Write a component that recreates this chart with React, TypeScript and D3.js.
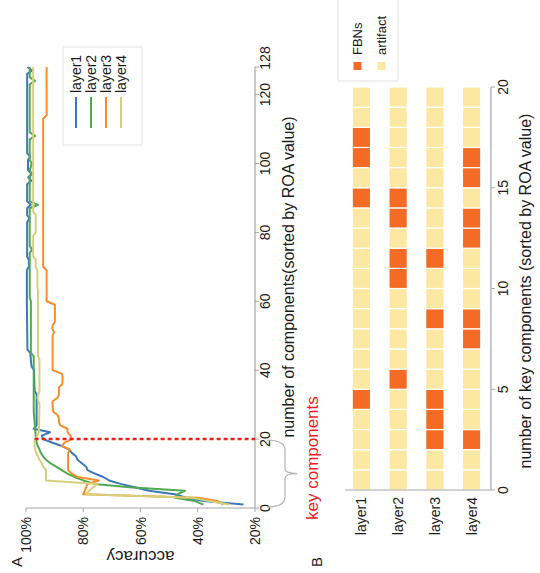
import React from "react";
import * as d3 from "d3";

// ---------- data ----------
const layers = ["layer1", "layer2", "layer3", "layer4"];
const lineColors = ["#3d79b7", "#4fa950", "#f58e28", "#d6d07c"];

const layer1Acc: [number, number][] = [
  [1, 24], [2, 38], [3, 44], [4, 48], [5, 57], [6, 62], [7, 67], [8, 71], [9, 73], [10, 76],
  [11, 78.5], [12, 79], [13, 80.5], [14, 82], [15, 82.5], [16, 84], [17, 85], [18, 87.5], [19, 91],
  [20, 94], [21, 94.5], [22, 91.6], [23, 97.3], [24, 96.3], [33, 96.3], [34, 97], [40, 97.2],
  [41, 98], [42, 98.2], [45, 98.5], [46, 99.5], [60, 99.7], [69, 99.7], [70, 99], [72, 99],
  [73, 99.6], [83, 99.6], [84, 98.7], [85, 99.6], [87, 99.6], [88, 98.3], [89, 99.6], [94, 99.6],
  [95, 98.2], [96, 99.2], [97, 98], [98, 99.3], [101, 99.3], [102, 98.5], [103, 99.6], [126, 99.6],
  [127, 97.9], [128, 99.5],
];
const layer2Acc: [number, number][] = [
  [1, 38], [2, 41], [3, 48], [4, 47], [5, 44.5], [6, 64], [7, 76], [8, 80], [9, 83], [10, 85.5],
  [11, 87.5], [12, 89.5], [13, 91.5], [14, 93], [15, 94], [16, 94.8], [17, 95.3], [18, 95.9],
  [19, 96.3], [20, 96.5], [25, 97], [28, 97.3], [44, 97.3], [45, 98.3], [60, 98.3], [61, 98.7],
  [74, 98.7], [75, 97.9], [76, 98.7], [87, 98.7], [88, 95.8], [89, 98.7], [96, 98.7], [97, 98],
  [98, 98.7], [100, 98], [101, 98.7], [107, 98.7], [108, 96.8], [109, 98.7], [123, 98.7],
  [124, 96.8], [125, 98.7], [128, 98.7],
];
const layer3Acc: [number, number][] = [
  [1, 31], [2, 33], [3, 40], [4, 80], [5, 79.5], [6, 79], [7, 78.5], [8, 74.5], [9, 82], [10, 84],
  [11, 85.3], [16, 85.3], [17, 84.7], [18, 87.5], [19, 86.5], [20, 84], [21, 84.5], [22, 85.5],
  [23, 85.5], [24, 88], [25, 88.5], [26, 88.5], [27, 89], [28, 90.5], [29, 90.7], [31, 90.7],
  [32, 89], [33, 88.5], [35, 88.5], [36, 87.3], [38, 87.2], [39, 87.5], [40, 90.7], [50, 90.7],
  [51, 90.2], [52, 90.8], [53, 90.7], [54, 89.9], [59, 89.9], [60, 92.8], [69, 92.8], [70, 94],
  [113, 94], [114, 92.8], [128, 92.8],
];
const layer4Acc: [number, number][] = [
  [1, 29], [2, 36], [3, 42], [4, 79], [5, 78], [6, 76.5], [7, 75], [8, 93], [11, 93], [12, 94],
  [13, 94.5], [14, 95.3], [15, 95.8], [16, 96.5], [17, 96.8], [18, 97], [19, 97], [20, 96.7],
  [22, 95.5], [30, 95.3], [32, 96], [34, 95.3], [43, 95.3], [44, 95.8], [63, 95.8], [64, 96],
  [69, 96], [70, 96.6], [72, 96.6], [73, 97.5], [79, 97.5], [80, 96.6], [85, 96.6], [86, 97.5],
  [128, 97.5],
];
const seriesA = [layer1Acc, layer2Acc, layer3Acc, layer4Acc];

const xTicksA = [0, 20, 40, 60, 80, 100, 120, 128];
const yTicksA = [20, 40, 60, 80, 100];
const keyComponents = 20;

// panel B: indices of key components that are FBNs
const fbnLayer1 = [4, 14, 16, 17];
const fbnLayer2 = [5, 10, 11, 13, 14];
const fbnLayer3 = [2, 3, 4, 8, 11];
const fbnLayer4 = [2, 7, 8, 12, 13, 15, 16];
const fbnByLayer = [fbnLayer1, fbnLayer2, fbnLayer3, fbnLayer4];
const xTicksB = [0, 5, 10, 15, 20];
const FBN_COLOR = "#f36b24";
const ART_COLOR = "#fde8a3";

// ---------- layout (unrotated figure 573 x 540) ----------
const FW = 573;
const AXIS = "#a6a6a6";
const TXT = "#1a1a1a";

export default function App() {
  const xA = d3.scaleLinear().domain([0, 128]).range([65, 506]);
  const yA = d3.scaleLinear().domain([20, 100]).range([255, 26]);
  const line = d3
    .line<[number, number]>()
    .x((d) => xA(d[0]))
    .y((d) => yA(d[1]));

  const xB = d3.scaleLinear().domain([0, 20]).range([83, 486]);
  const yB = d3.scaleBand<string>().domain(layers).range([343, 490]).paddingInner(0.5).paddingOuter(0.25);

  const bx0 = xA(0) + 1;
  const bx1 = xA(keyComponents) - 1;
  const bxm = (bx0 + bx1) / 2;
  const brace = `M${bx0},267 Q${bx0},285 ${bx0 + 10},285 L${bxm - 5},285 Q${bxm},285 ${bxm},297 Q${bxm},285 ${bxm + 5},285 L${bx1 - 10},285 Q${bx1},285 ${bx1},267`;

  return (
    <svg
      width={540}
      height={573}
      style={{ position: "absolute", left: 0, top: 0, background: "#fff" }}
      fontFamily="'Liberation Sans', Arial, sans-serif"
    >
      <g transform={`translate(0,${FW}) rotate(-90)`}>
        {/* ===== Panel A ===== */}
        <text x={6} y={22} fontSize={15} fill={TXT}>A</text>
        {/* axes */}
        <line x1={xA(0)} x2={xA(128)} y1={yA(20)} y2={yA(20)} stroke={AXIS} strokeWidth={1.2} />
        <line x1={xA(0)} x2={xA(0)} y1={yA(20)} y2={yA(100)} stroke={AXIS} strokeWidth={1.2} />
        {xTicksA.map((t) => (
          <g key={"xa" + t}>
            <line x1={xA(t)} x2={xA(t)} y1={yA(20)} y2={yA(20) + 4} stroke={AXIS} />
            <text x={xA(t) + (t === 128 ? 9 : 0)} y={270} fontSize={14} textAnchor="middle" fill={TXT}>{t}</text>
          </g>
        ))}
        {yTicksA.map((t) => (
          <g key={"ya" + t}>
            <line x1={xA(0) - 4} x2={xA(0)} y1={yA(t)} y2={yA(t)} stroke={AXIS} />
            <text x={56} y={yA(t) + 5} fontSize={14} textAnchor="end" fill={TXT}>{t}%</text>
          </g>
        ))}
        <text
          transform={`translate(22,${yA(60)}) rotate(-90)`}
          fontSize={17}
          textAnchor="middle"
          fill={TXT}
        >
          accuracy
        </text>
        <text x={296} y={294} fontSize={16} textAnchor="middle" fill={TXT}>
          number of components(sorted by ROA value)
        </text>
        {/* series */}
        {seriesA.map((s, i) => (
          <path key={"s" + i} d={line(s) || ""} fill="none" stroke={lineColors[i]} strokeWidth={2} strokeLinejoin="round" />
        ))}
        {/* key component marker */}
        <line
          x1={xA(keyComponents)}
          x2={xA(keyComponents)}
          y1={yA(97)}
          y2={yA(20)}
          stroke="#e8211c"
          strokeWidth={2.5}
          strokeDasharray="4 3"
        />
        <path d={brace} fill="none" stroke="#b3b3b3" strokeWidth={1.2} />
        <text x={53} y={318} fontSize={17} fill="#ee1c25">key components</text>
        {/* legend A */}
        <rect x={428} y={63} width={98} height={79} fill="#fff" stroke="#e2e2e2" />
        {layers.map((l, i) => (
          <g key={"la" + l}>
            <line x1={445} x2={476} y1={76 + i * 15} y2={76 + i * 15} stroke={lineColors[i]} strokeWidth={2} />
            <text x={480} y={81 + i * 15} fontSize={14} fill={TXT}>{l}</text>
          </g>
        ))}

        {/* ===== Panel B ===== */}
        <text x={6} y={322} fontSize={15} fill={TXT}>B</text>
        {layers.map((l, li) =>
          d3.range(0, 20).map((i) => (
            <rect
              key={l + i}
              x={xB(i)}
              y={yB(l)}
              width={xB(i + 1) - xB(i)}
              height={yB.bandwidth()}
              fill={fbnByLayer[li].includes(i) ? FBN_COLOR : ART_COLOR}
              stroke="#fff"
              strokeWidth={1.2}
            />
          ))
        )}
        <line x1={xB(0)} x2={xB(20)} y1={491} y2={491} stroke={AXIS} strokeWidth={1.2} />
        <line x1={xB(0)} x2={xB(0)} y1={345} y2={491} stroke={AXIS} strokeWidth={1.2} />
        {xTicksB.map((t) => (
          <g key={"xb" + t}>
            <line x1={xB(t)} x2={xB(t)} y1={491} y2={495} stroke={AXIS} />
            <text x={xB(t)} y={508} fontSize={14} textAnchor="middle" fill={TXT}>{t}</text>
          </g>
        ))}
        {layers.map((l) => (
          <text key={"lb" + l} x={76} y={(yB(l) || 0) + yB.bandwidth() / 2 + 5} fontSize={14} textAnchor="end" fill={TXT}>
            {l}
          </text>
        ))}
        <text x={282} y={531} fontSize={16} textAnchor="middle" fill={TXT}>
          number of key components (sorted by ROA value)
        </text>
        {/* legend B */}
        <rect x={492} y={338} width={90} height={60} fill="#fff" stroke="#e2e2e2" />
        <rect x={503} y={353.5} width={8} height={8} fill={FBN_COLOR} />
        <text x={518} y={362} fontSize={13} fill={TXT}>FBNs</text>
        <rect x={503} y={377.5} width={8} height={8} fill={ART_COLOR} />
        <text x={518} y={386} fontSize={13} fill={TXT}>artifact</text>
      </g>
    </svg>
  );
}
